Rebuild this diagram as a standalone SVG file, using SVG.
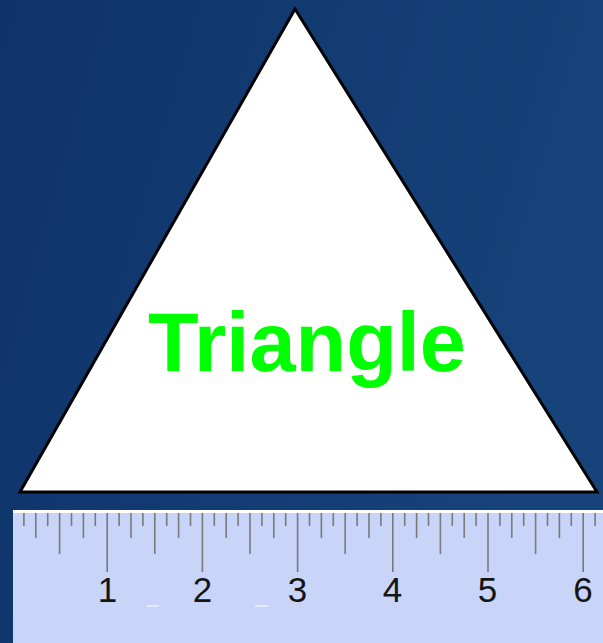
<svg xmlns="http://www.w3.org/2000/svg" width="603" height="643" viewBox="0 0 603 643">
<defs>
<linearGradient id="bg" x1="0" y1="0" x2="1" y2="0.3">
<stop offset="0" stop-color="#0e3369"/>
<stop offset="1" stop-color="#16437a"/>
</linearGradient>
<style>
.tick{stroke:#7a7a7a;stroke-width:1.6;fill:none}
.num{font-family:"Liberation Sans",Arial,sans-serif;font-size:35px;fill:#151515;text-anchor:middle}
.lbl{font-family:"Liberation Sans",Arial,sans-serif;font-weight:bold;font-size:84px;fill:#00ff00}
</style>
</defs>
<rect width="603" height="643" fill="url(#bg)"/>
<g id="triangle">
<polygon points="295,9 597,492 20,492" fill="#ffffff" stroke="#000000" stroke-width="3" stroke-linejoin="miter"/>
<text class="lbl" x="148" y="371" textLength="318" lengthAdjust="spacingAndGlyphs">Triangle</text>
</g>
<g id="ruler">
<rect x="13" y="510" width="590" height="133" fill="#c8d4f8"/>
<rect x="13" y="510" width="590" height="3" fill="#ffffff"/>
<path class="tick" d="M23.9 513V526M47.7 513V526M71.5 513V526M95.3 513V526M119.1 513V526M142.9 513V526M166.7 513V526M190.5 513V526M214.3 513V526M238.1 513V526M261.9 513V526M285.7 513V526M309.5 513V526M333.3 513V526M357.1 513V526M380.9 513V526M404.7 513V526M428.5 513V526M452.3 513V526M476.1 513V526M499.9 513V526M523.7 513V526M547.5 513V526M571.3 513V526M595.1 513V526"/>
<path class="tick" d="M35.8 513V538M83.4 513V538M131 513V538M178.6 513V538M226.2 513V538M273.8 513V538M321.4 513V538M369 513V538M416.6 513V538M464.2 513V538M511.8 513V538M559.4 513V538"/>
<path class="tick" d="M59.6 513V554M154.8 513V554M250 513V554M345.2 513V554M440.4 513V554M535.6 513V554"/>
<path class="tick" d="M107.2 513V572M202.4 513V572M297.6 513V572M392.8 513V572M488 513V572M583.2 513V572"/>
<text class="num" x="107.5" y="602">1</text>
<text class="num" x="202.5" y="602">2</text>
<text class="num" x="297.5" y="602">3</text>
<text class="num" x="392.5" y="602">4</text>
<text class="num" x="487.5" y="602">5</text>
<text class="num" x="583" y="602">6</text>
<rect x="147" y="605" width="12" height="2" fill="#e4ebff"/>
<rect x="255" y="605" width="13" height="2" fill="#e4ebff"/>
</g>
</svg>
